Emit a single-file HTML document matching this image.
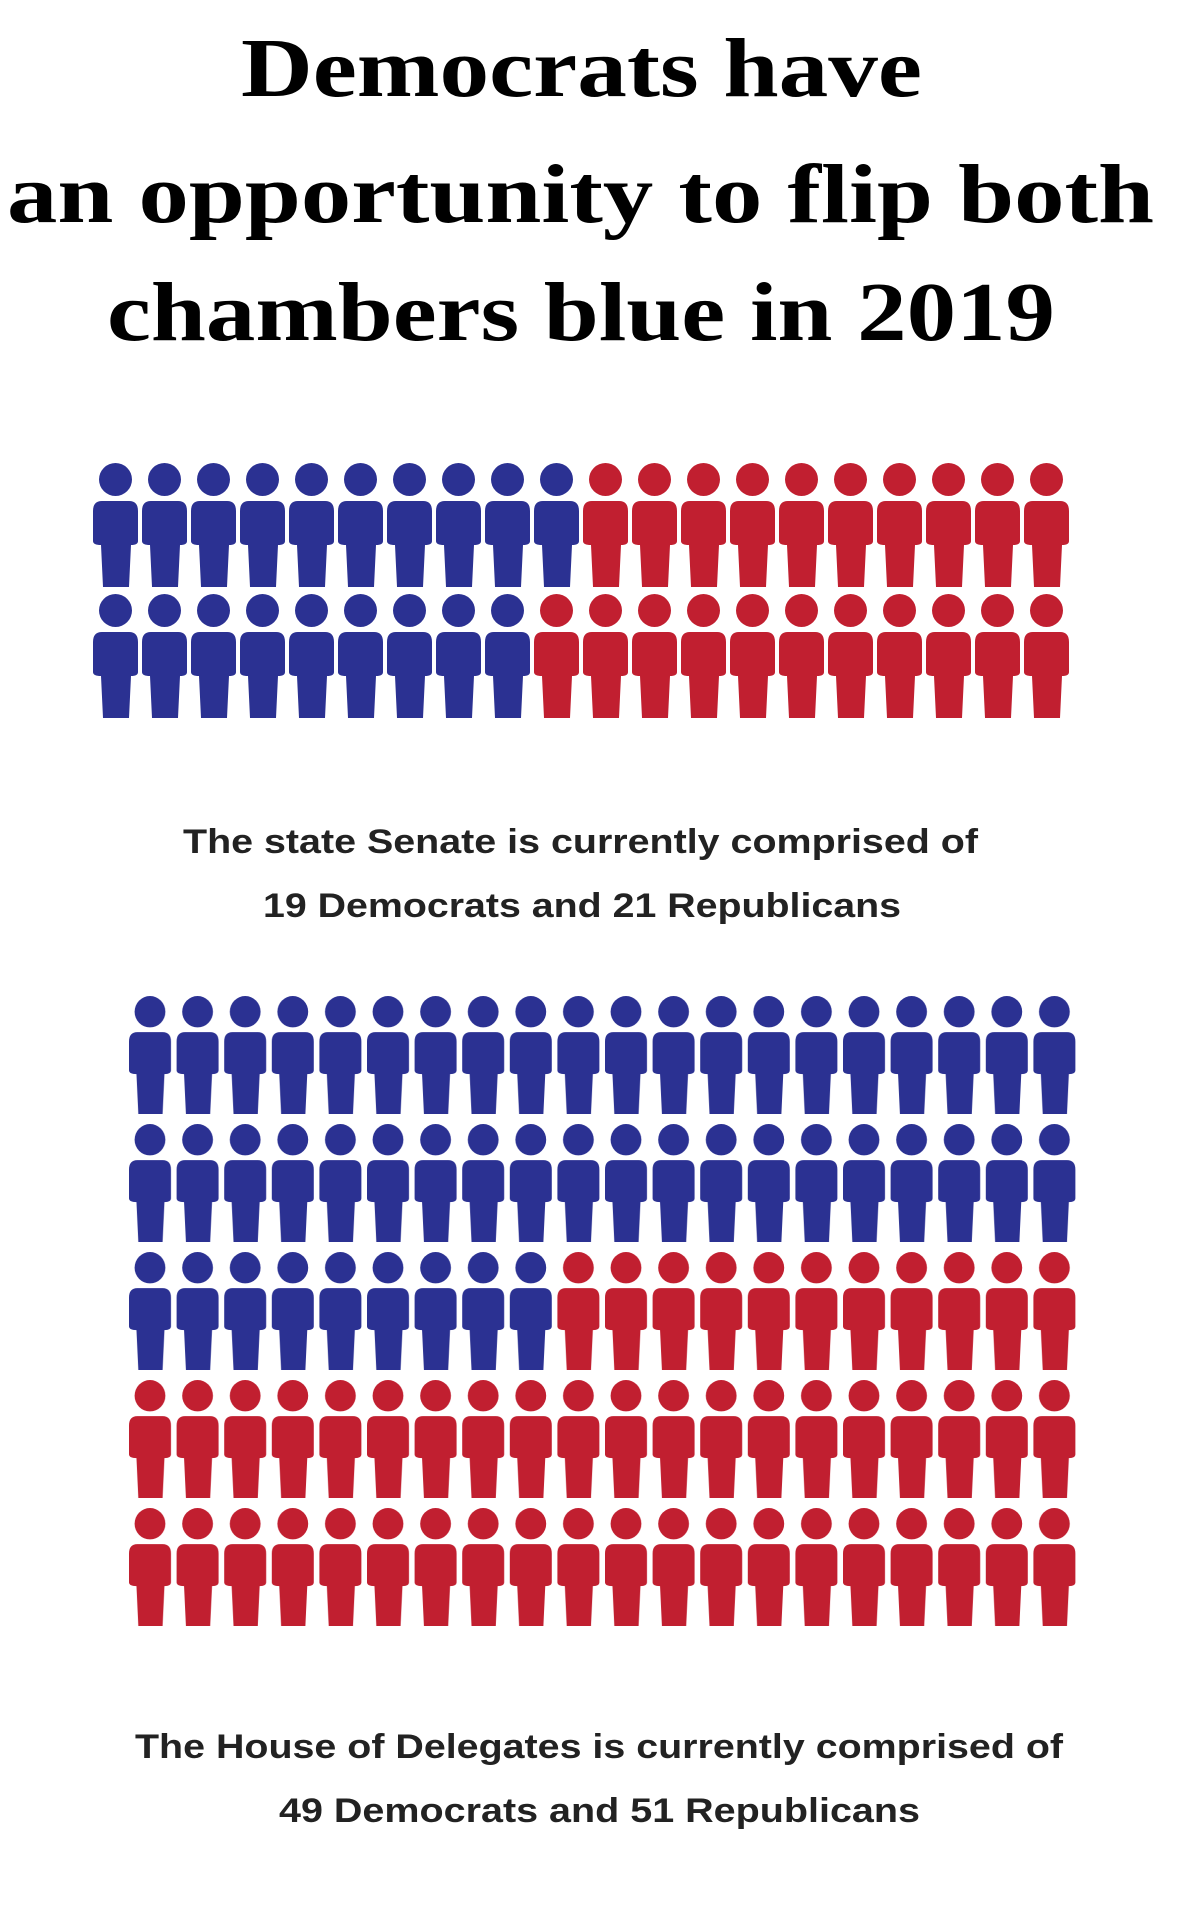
<!DOCTYPE html>
<html><head><meta charset="utf-8"><style>html,body{margin:0;padding:0;background:#fff}svg{display:block}</style></head>
<body>
<svg width="1200" height="1912" viewBox="0 0 1200 1912" xmlns="http://www.w3.org/2000/svg">
<defs>
<g id="fig">
<circle cx="22.5" cy="16.5" r="16.5"/>
<path d="M9,38 H36 Q45,38 45,48 V78 Q45,82 38,82 L36,124 H10 L8,82 Q0,82 0,78 V48 Q0,38 9,38 Z"/>
</g>
<pattern id="sb" patternUnits="userSpaceOnUse" x="93" y="463" width="49" height="131"><use href="#fig" fill="#2b3192"/></pattern>
<pattern id="sr" patternUnits="userSpaceOnUse" x="93" y="463" width="49" height="131"><use href="#fig" fill="#c11f30"/></pattern>
<pattern id="hb" patternUnits="userSpaceOnUse" x="129" y="996" width="47.6" height="128"><use href="#fig" fill="#2b3192" transform="scale(0.933,0.952)"/></pattern>
<pattern id="hr" patternUnits="userSpaceOnUse" x="129" y="996" width="47.6" height="128"><use href="#fig" fill="#c11f30" transform="scale(0.933,0.952)"/></pattern>
</defs>
<g font-family="'Liberation Serif',serif" font-weight="bold" font-size="84" fill="#000">
<text x="241" y="96" textLength="681" lengthAdjust="spacingAndGlyphs">Democrats have</text>
<text x="7" y="222" textLength="1147" lengthAdjust="spacingAndGlyphs">an opportunity to flip both</text>
<text x="107" y="340" textLength="948" lengthAdjust="spacingAndGlyphs">chambers blue in 2019</text>
</g>
<rect x="93" y="460" width="980" height="262" fill="url(#sr)"/>
<path d="M93,460 H583 V590 H534 V722 H93 Z" fill="#fff"/>
<path d="M93,460 H583 V590 H534 V722 H93 Z" fill="url(#sb)"/>
<rect x="129" y="994" width="947" height="634" fill="url(#hr)"/>
<path d="M129,994 H1077 V1250 H557 V1378 H129 Z" fill="#fff"/>
<path d="M129,994 H1077 V1250 H557 V1378 H129 Z" fill="url(#hb)"/>
<g font-family="'Liberation Sans',sans-serif" font-weight="bold" font-size="34" fill="#222">
<text x="183" y="853" textLength="795" lengthAdjust="spacingAndGlyphs">The state Senate is currently comprised of</text>
<text x="263" y="917" textLength="638" lengthAdjust="spacingAndGlyphs">19 Democrats and 21 Republicans</text>
<text x="135" y="1758" textLength="928" lengthAdjust="spacingAndGlyphs">The House of Delegates is currently comprised of</text>
<text x="279" y="1822" textLength="641" lengthAdjust="spacingAndGlyphs">49 Democrats and 51 Republicans</text>
</g>
</svg>
</body></html>
